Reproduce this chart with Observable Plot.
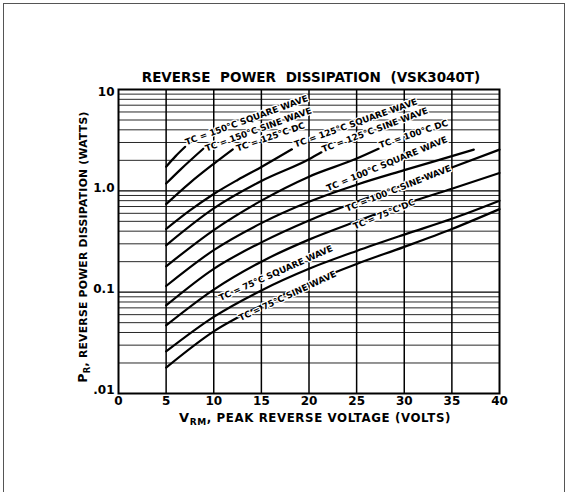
<!DOCTYPE html>
<html>
<head>
<meta charset="utf-8">
<script src="https://cdn.jsdelivr.net/npm/d3@7"></script>
<script src="https://cdn.jsdelivr.net/npm/@observablehq/plot@0.6"></script>
<style>
  html, body { margin: 0; padding: 0; background: #fff; }
  #wrap { position: relative; width: 566px; height: 492px; overflow: hidden; background: #fff; }
  #border { position: absolute; left: 3px; top: 3px; width: 560px; height: 600px;
            border-left: 1.5px solid #555; border-top: 1.5px solid #555; border-right: 1.5px solid #555; }
  #wrap svg { position: absolute; left: 0; top: 0; }
  #wrap svg text { font-family: "DejaVu Sans", sans-serif; font-weight: bold; }
  g[aria-label="curve-labels"] text { letter-spacing: 0.45px; }
</style>
</head>
<body>
<div id="wrap"><div id="border"></div></div>
<script>
// ---- Axis ticks ----
const vTicks = [0, 5, 10, 15, 20, 25, 30, 35, 40];
const pTicks = [0.01, 0.1, 1, 10];
const pTickLabels = [".01", "0.1", "1.0", "10"];
const vGrid = [5, 10, 15, 20, 25, 30, 35];
const pMajorGrid = [0.1, 1];
const pMinorGrid = [0.02, 0.03, 0.04, 0.05, 0.06, 0.07, 0.08, 0.09,
                    0.2, 0.3, 0.4, 0.5, 0.6, 0.7, 0.8, 0.9,
                    2, 3, 4, 5, 6, 7, 8, 9];

// ---- Curves: VRM (volts) and PR (watts) ----
const tc150SquareV = [5, 6, 7.0];
const tc150SquareP = [1.73, 2.2, 2.72];
const tc150SineV = [5, 6.5, 8.9];
const tc150SineP = [1.18, 1.62, 2.6];
const tc125DcV = [5, 7.5, 10, 12.0];
const tc125DcP = [0.74, 1.2, 1.85, 2.57];
const tc125SquareV = [5, 7.5, 10, 12.5, 15, 18.2];
const tc125SquareP = [0.42, 0.64, 0.93, 1.28, 1.72, 2.57];
const tc125SineV = [5, 10, 15, 20, 21.3];
const tc125SineP = [0.29, 0.67, 1.25, 2.05, 2.4];
const tc100DcV = [5, 10, 15, 20, 25, 27.3];
const tc100DcP = [0.18, 0.41, 0.8, 1.38, 2.08, 2.6];
const tc100SquareV = [5, 10, 15, 20, 25, 30, 35, 37.3];
const tc100SquareP = [0.115, 0.26, 0.48, 0.78, 1.15, 1.6, 2.2, 2.55];
const tc100SineV = [5, 10, 15, 20, 25, 30, 35, 40];
const tc100SineP = [0.074, 0.17, 0.31, 0.51, 0.78, 1.15, 1.7, 2.55];
const tc75DcV = [5, 10, 15, 20, 25, 30, 35, 40];
const tc75DcP = [0.047, 0.106, 0.2, 0.33, 0.5, 0.74, 1.05, 1.5];
const tc75SquareV = [5, 10, 15, 20, 25, 30, 35, 40];
const tc75SquareP = [0.026, 0.057, 0.104, 0.17, 0.255, 0.37, 0.53, 0.8];
const tc75SineV = [5, 10, 15, 20, 25, 30, 35, 40];
const tc75SineP = [0.018, 0.041, 0.074, 0.123, 0.19, 0.28, 0.42, 0.66];

// ---- Curve labels ----
const labelTexts = ["TC = 150°C SQUARE WAVE", "TC = 150°C SINE WAVE", "TC = 125°C DC",
  "TC = 125°C SQUARE WAVE", "TC = 125°C SINE WAVE", "TC = 100°C DC",
  "TC = 100°C SQUARE WAVE", "TC = 100°C SINE WAVE", "TC = 75°C DC",
  "TC = 75°C SQUARE WAVE", "TC = 75°C SINE WAVE"];
const labelV = [7.35, 9.45, 12.7, 18.8, 21.7, 27.7, 22.2, 24.2, 25.0, 10.9, 13.0];
const labelP = [3.0, 2.6, 2.6, 2.85, 2.55, 2.8, 1.05, 0.66, 0.44, 0.087, 0.055];
const labelAngle = [-20, -20, -19, -19.5, -20.5, -18.5, -22.5, -21.5, -22.5, -24, -25];

const curves = [
  ["150sq", tc150SquareV, tc150SquareP], ["150sine", tc150SineV, tc150SineP],
  ["125dc", tc125DcV, tc125DcP], ["125sq", tc125SquareV, tc125SquareP],
  ["125sine", tc125SineV, tc125SineP], ["100dc", tc100DcV, tc100DcP],
  ["100sq", tc100SquareV, tc100SquareP], ["100sine", tc100SineV, tc100SineP],
  ["75dc", tc75DcV, tc75DcP], ["75sq", tc75SquareV, tc75SquareP],
  ["75sine", tc75SineV, tc75SineP]
];
const rows = curves.flatMap(([name, vs, ps]) => vs.map((v, i) => ({curve: name, v, p: ps[i]})));
const labels = labelTexts.map((t, i) => ({text: t, v: labelV[i], p: labelP[i], angle: labelAngle[i]}));

const chart = Plot.plot({
  width: 566,
  height: 492,
  marginLeft: 118,
  marginRight: 67,
  marginTop: 89,
  marginBottom: 99,
  style: {background: "transparent", fontFamily: "DejaVu Sans, sans-serif", fontWeight: "bold", color: "#000"},
  x: {domain: [0, 40]},
  y: {type: "log", domain: [0.01, 10]},
  marks: [
    Plot.ruleY(pMinorGrid, {stroke: "#111", strokeWidth: 0.9}),
    Plot.ruleY(pMajorGrid, {stroke: "#000", strokeWidth: 1.4}),
    Plot.ruleX(vGrid, {stroke: "#000", strokeWidth: 1.5}),
    Plot.line(rows, {x: "v", y: "p", z: "curve", curve: "monotone-x", stroke: "#000", strokeWidth: 2.2}),
    Plot.text(labels, {x: "v", y: "p", text: "text", rotate: "angle", textAnchor: "start",
      lineAnchor: "middle", dx: -3, fontSize: 8.8, fontWeight: "bold", fill: "#000",
      stroke: "#fff", strokeWidth: 2.5, paintOrder: "stroke", ariaLabel: "curve-labels"}),
    Plot.frame({stroke: "#000", strokeWidth: 2}),
    Plot.axisX(vTicks, {tickSize: 0, tickPadding: 3, fontSize: 12, fontWeight: "bold", label: null}),
    Plot.axisY(pTicks.slice(0, 3), {tickSize: 0, tickPadding: 4, dy: -3, fontSize: 12, fontWeight: "bold",
      tickFormat: d => pTickLabels[pTicks.indexOf(d)], label: null}),
    Plot.axisY(pTicks.slice(3), {tickSize: 0, tickPadding: 4, dy: 3, fontSize: 12, fontWeight: "bold",
      tickFormat: d => pTickLabels[pTicks.indexOf(d)], label: null})
  ]
});
document.getElementById("wrap").append(chart);

const svg = d3.select(chart);
// subscript C in curve labels
svg.selectAll('g[aria-label="curve-labels"] text').each(function () {
  const t = this.textContent;
  if (t.startsWith("TC")) {
    const s = d3.select(this);
    s.text(null);
    s.append("tspan").text("T");
    s.append("tspan").attr("dy", "0.35em").attr("font-size", "0.8em").text("C");
    s.append("tspan").attr("dy", "-0.35em").text(t.slice(2));
  }
});

// title
svg.append("text").attr("x", 311).attr("y", 82).attr("text-anchor", "middle")
  .attr("font-size", 13.5).style("word-spacing", "5px").attr("fill", "#000")
  .text("REVERSE POWER DISSIPATION (VSK3040T)");

// x axis title
const xt = svg.append("text").attr("x", 315).attr("y", 422).attr("text-anchor", "middle")
  .attr("font-size", 11.8).style("letter-spacing", "0.6px").attr("fill", "#000");
xt.append("tspan").attr("font-size", 13).text("V");
xt.append("tspan").attr("font-size", 9).attr("dy", 3).text("RM");
xt.append("tspan").attr("dy", -3).text(", PEAK REVERSE VOLTAGE (VOLTS)");

// y axis title
const yt = svg.append("text").attr("transform", "translate(87,247) rotate(-90)").attr("text-anchor", "middle")
  .attr("font-size", 10.8).style("letter-spacing", "0.25px").attr("fill", "#000");
yt.append("tspan").attr("font-size", 12.5).text("P");
yt.append("tspan").attr("font-size", 8.5).attr("dy", 3).text("R");
yt.append("tspan").attr("dy", -3).text(", REVERSE POWER DISSIPATION (WATTS)");
</script>
</body>
</html>
